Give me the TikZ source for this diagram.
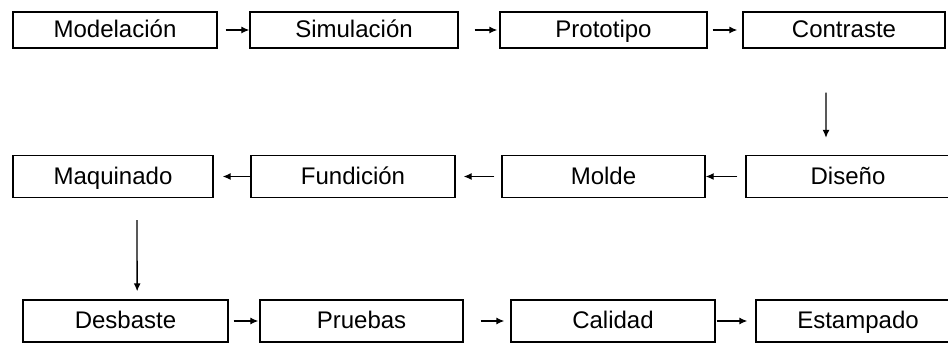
\documentclass[tikz,border=0pt]{standalone}
\usepackage{fontspec}
\setmainfont{Liberation Sans}
\usetikzlibrary{arrows.meta}
\tikzset{caja/.style={draw,line width=1.1pt,minimum width=6.12cm,minimum height=1.26cm,inner sep=0pt,text height=18pt,text depth=4.5pt,font=\fontsize{20.5}{24}\selectfont},
	flecha/.style={line width=1.1pt,-{Latex[length=2.4mm,width=2.1mm]}}}
\begin{document}
\begin{tikzpicture}[x=0.03cm,y=-0.03cm]% proceso de fabricacion
	\useasboundingbox (0,0) rectangle (948,343);
	\node[caja,minimum height=1.08cm] (mod) at (115,30) {Modelación};
	\node[caja,minimum height=1.08cm,minimum width=6.24cm] (sim) at (354,30) {Simulación};
	\node[caja,minimum height=1.08cm,minimum width=6.21cm] (pro) at (603.5,30) {Prototipo};
	\node[caja,minimum height=1.08cm,minimum width=6.06cm] (con) at (844,30) {Contraste};
	\node[caja,minimum width=6cm] (maq) at (113,176.5) {Maquinado};
	\node[caja] (fun) at (353,176.5) {Fundición};
	\node[caja,minimum width=6.09cm] (mol) at (603.5,176.5) {Molde};
	\node[caja] (dis) at (848,176.5) {Diseño};
	\node[caja,minimum width=6.15cm] (des) at (125.5,321) {Desbaste};
	\node[caja,minimum width=6.09cm] (pru) at (361.5,321) {Pruebas};
	\node[caja,minimum width=6.12cm] (cal) at (613,321) {Calidad};
	\node[caja] (est) at (858,321) {Estampado};
	\draw[flecha,shorten <=0.24cm] (mod)--(sim);
	\draw[flecha,shorten <=0.48cm,shorten >=0.06cm] (sim)--(pro);
	\draw[flecha,shorten <=0.15cm,shorten >=0.15cm] (pro)--(con);
	\draw[flecha,shorten <=1.32cm,shorten >=0.51cm] ([xshift=-0.54cm]con.south)--([xshift=-0.66cm]dis.north);
	\draw[flecha,shorten <=0.24cm] (dis)--(mol);
	\draw[flecha,shorten <=0.21cm,shorten >=0.24cm] (mol)--(fun);
	\draw[flecha,shorten >=0.27cm] (fun)--(maq);
	\draw[flecha,shorten <=0.66cm,shorten >=0.24cm] ([xshift=0.72cm]maq.south)--([xshift=0.35cm]des.north);
	\draw[flecha,shorten <=0.15cm,shorten >=0.03cm] (des)--(pru);
	\draw[flecha,shorten <=0.51cm,shorten >=0.18cm] (pru)--(cal);
	\draw[flecha,shorten <=0.03cm,shorten >=0.24cm] (cal)--(est);
\end{tikzpicture}
\end{document}
